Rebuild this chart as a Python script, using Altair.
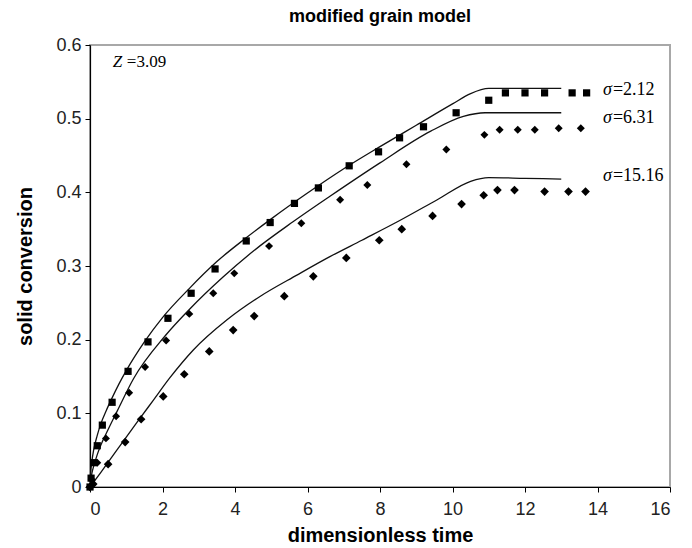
import altair as alt
import pandas as pd

# Experimental points (dimensionless time, solid conversion) for each sigma
exp_t_212 = [0, 0.03, 0.1, 0.2, 0.34, 0.61, 1.05, 1.6, 2.15, 2.79, 3.45, 4.31, 4.97, 5.64,
             6.3, 7.15, 7.96, 8.54, 9.2, 10.1, 11.0, 11.46, 12.0, 12.54, 13.3, 13.7]
exp_x_212 = [0, 0.012, 0.033, 0.056, 0.084, 0.115, 0.157, 0.197, 0.229, 0.263, 0.296, 0.334,
             0.359, 0.385, 0.406, 0.436, 0.455, 0.474, 0.489, 0.508, 0.525, 0.535, 0.535,
             0.535, 0.535, 0.535]

exp_t_631 = [0, 0.05, 0.2, 0.44, 0.72, 1.08, 1.52, 2.1, 2.74, 3.4, 3.98, 4.94, 5.83, 6.9,
             7.65, 8.73, 9.83, 10.88, 11.3, 11.8, 12.27, 12.93, 13.54]
exp_x_631 = [0, 0.01, 0.033, 0.066, 0.096, 0.128, 0.163, 0.199, 0.235, 0.263, 0.29, 0.327,
             0.358, 0.39, 0.41, 0.438, 0.458, 0.478, 0.485, 0.485, 0.485, 0.487, 0.487]

exp_t_1516 = [0, 0.09, 0.5, 0.97, 1.41, 2.02, 2.6, 3.29, 3.95, 4.53, 5.36, 6.16, 7.07, 7.98,
              8.6, 9.45, 10.25, 10.86, 11.24, 11.71, 12.54, 13.2, 13.67]
exp_x_1516 = [0, 0.004, 0.031, 0.061, 0.092, 0.123, 0.153, 0.184, 0.213, 0.232, 0.259, 0.286,
              0.311, 0.335, 0.35, 0.368, 0.384, 0.396, 0.403, 0.403, 0.401, 0.401, 0.401]

# Modified grain model predictions
mod_t_212 = [0, 0.02, 0.05, 0.1, 0.2, 0.3, 0.45, 0.6, 0.8, 1.0, 1.5, 2.0, 2.75, 3.5, 4.3,
             5.0, 6.0, 7.0, 8.0, 9.0, 10.0, 10.5, 11.0, 12.0, 13.0]
mod_x_212 = [0, 0.02, 0.034, 0.05, 0.07, 0.086, 0.104, 0.12, 0.14, 0.158, 0.197, 0.23, 0.27,
             0.306, 0.338, 0.364, 0.399, 0.432, 0.462, 0.491, 0.52, 0.534, 0.541, 0.541, 0.541]

mod_t_631 = [0, 0.05, 0.1, 0.2, 0.3, 0.5, 0.75, 1.2, 2.07, 2.76, 3.67, 4.5, 5.6, 6.63, 8.0,
             9.4, 10.3, 10.9, 12.0, 13.0]
mod_x_631 = [0, 0.018, 0.028, 0.044, 0.057, 0.078, 0.103, 0.147, 0.205, 0.242, 0.285, 0.32,
             0.36, 0.395, 0.44, 0.483, 0.503, 0.508, 0.508, 0.508]

mod_t_1516 = [0, 0.3, 0.77, 1.3, 1.75, 2.2, 2.85, 3.78, 4.7, 5.72, 6.63, 7.5, 8.48, 9.58,
              10.5, 11.0, 12.0, 13.0]
mod_x_1516 = [0, 0.02, 0.052, 0.088, 0.118, 0.148, 0.186, 0.227, 0.259, 0.288, 0.313, 0.335,
              0.36, 0.39, 0.415, 0.42, 0.419, 0.418]

sigmas = ["2.12", "6.31", "15.16"]
label_y = [0.539, 0.501, 0.422]

exp_rows = []
for s, ts, xs in zip(sigmas, [exp_t_212, exp_t_631, exp_t_1516], [exp_x_212, exp_x_631, exp_x_1516]):
    exp_rows += [{"sigma": s, "t": t, "x": x} for t, x in zip(ts, xs)]
exp_df = pd.DataFrame(exp_rows)

mod_rows = []
for s, ts, xs in zip(sigmas, [mod_t_212, mod_t_631, mod_t_1516], [mod_x_212, mod_x_631, mod_x_1516]):
    mod_rows += [{"sigma": s, "t": t, "x": x} for t, x in zip(ts, xs)]
mod_df = pd.DataFrame(mod_rows)

lab_df = pd.DataFrame({"sigma": sigmas, "t": [14.15] * 3, "x": label_y,
                       "txt": ["=" + s for s in sigmas]})
z_df = pd.DataFrame({"t": [0.63], "x": [0.577], "txt": ["=3.09"]})

x_enc = alt.X("t:Q", scale=alt.Scale(domain=[0, 16], nice=False),
              axis=alt.Axis(values=list(range(0, 17, 2)), title="dimensionless time"))
y_enc = alt.Y("x:Q", scale=alt.Scale(domain=[0, 0.6], nice=False),
              axis=alt.Axis(values=[0, 0.1, 0.2, 0.3, 0.4, 0.5, 0.6], format="~g",
                            title="solid conversion"))

lines = alt.Chart(mod_df).mark_line(color="#111", strokeWidth=1.3, interpolate="monotone").encode(
    x=x_enc, y=y_enc, detail="sigma:N"
)

points = alt.Chart(exp_df).mark_point(filled=True, opacity=1, color="#000").encode(
    x="t:Q", y="x:Q",
    shape=alt.Shape("sigma:N", scale=alt.Scale(domain=sigmas, range=["square", "diamond", "diamond"]),
                    legend=None),
    size=alt.Size("sigma:N", scale=alt.Scale(domain=sigmas, range=[52, 75, 75]), legend=None),
)

sig_sym = alt.Chart(lab_df).mark_text(
    text="σ", font="Liberation Serif", fontSize=18, fontStyle="italic", align="left", baseline="middle",
    color="#000"
).encode(x="t:Q", y="x:Q")
sig_txt = alt.Chart(lab_df).mark_text(
    font="Liberation Serif", fontSize=18, align="left", baseline="middle", dx=10, color="#000"
).encode(x="t:Q", y="x:Q", text="txt:N")

z_sym = alt.Chart(z_df).mark_text(
    text="Z", font="Liberation Serif", fontSize=17, fontStyle="italic", align="left", baseline="middle",
    color="#000"
).encode(x="t:Q", y="x:Q")
z_txt = alt.Chart(z_df).mark_text(
    font="Liberation Serif", fontSize=17, align="left", baseline="middle", dx=14, color="#000"
).encode(x="t:Q", y="x:Q", text="txt:N")

chart = alt.layer(lines, points, sig_sym, sig_txt, z_sym, z_txt).properties(
    width=580, height=442,
    title=alt.TitleParams("modified grain model", font="Liberation Sans", fontSize=18,
                          fontWeight="bold", color="#000", offset=10),
    autosize=alt.AutoSizeParams(type="none"),
    padding={"left": 90, "top": 45, "right": 22, "bottom": 61},
).configure_view(
    stroke="#a8a8a8", strokeWidth=2
).configure_axis(
    grid=False, domainColor="#000", domainWidth=1.2, tickColor="#000", tickSize=5,
    labelFont="Liberation Sans", labelFontSize=18, labelColor="#222",
    titleFont="Liberation Sans", titleFontSize=20, titleFontWeight="bold", titleColor="#000",
).configure_axisX(labelPadding=8, titlePadding=7).configure_axisY(labelPadding=4, titlePadding=20)

chart.save("out.html", embed_options={"renderer": "svg", "actions": False})
